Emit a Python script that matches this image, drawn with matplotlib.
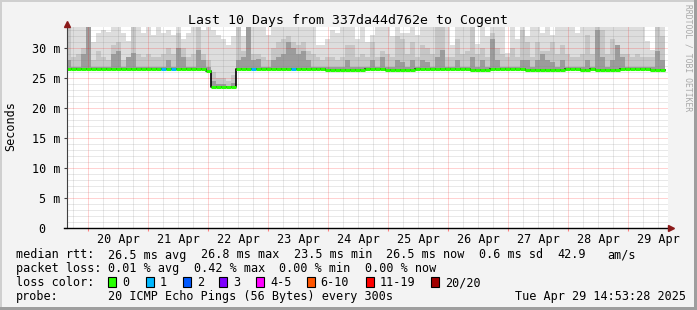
import numpy as np
import matplotlib
matplotlib.use('Agg')
import matplotlib.pyplot as plt
from matplotlib.patches import Rectangle

W, H, DPI = 697, 310, 100
plt.rcParams['font.family'] = 'DejaVu Sans Mono'
FS = 8.5

title = 'Last 10 Days from 337da44d762e to Cogent'

# time in days counted from 20 Apr 00:00, graph ends Tue Apr 29 14:53:28
t_end = 9 + (14 + 53 / 60) / 24
t_start = t_end - 10
bin_w = 2 / 24  # one value every 2 hours

day_labels = ['20 Apr', '21 Apr', '22 Apr', '23 Apr', '24 Apr',
              '25 Apr', '26 Apr', '27 Apr', '28 Apr', '29 Apr']
ytick_vals = [0, 5, 10, 15, 20, 25, 30]
ytick_labels = ['0  ', '5 m', '10 m', '15 m', '20 m', '25 m', '30 m']

# median rtt (ms) per 2h bin
median = [26.6, 26.6, 26.6, 26.6, 26.6, 26.6, 26.6, 26.6, 26.6, 26.6,
          26.6, 26.6, 26.5, 26.6, 26.6, 26.6, 26.6, 26.6, 26.6, 26.6,
          26.6, 26.6, 26.6, 26.5, 26.5, 26.6, 26.6, 26.6, 26.2, 23.5,
          23.5, 23.5, 23.5, 23.5, 26.6, 26.6, 26.6, 26.6, 26.6, 26.6,
          26.6, 26.6, 26.6, 26.6, 26.6, 26.6, 26.6, 26.6, 26.6, 26.6,
          26.6, 26.6, 26.45, 26.45, 26.45, 26.45, 26.4, 26.4, 26.4, 26.4,
          26.5, 26.5, 26.5, 26.5, 26.45, 26.45, 26.45, 26.45, 26.45, 26.45,
          26.5, 26.5, 26.5, 26.5, 26.5, 26.5, 26.5, 26.5, 26.5, 26.5,
          26.5, 26.45, 26.45, 26.45, 26.45, 26.5, 26.5, 26.5, 26.5, 26.5,
          26.55, 26.55, 26.4, 26.4, 26.4, 26.4, 26.4, 26.4, 26.4, 26.4,
          26.5, 26.5, 26.5, 26.4, 26.4, 26.5, 26.4, 26.4, 26.4, 26.4,
          26.4, 26.5, 26.5, 26.5, 26.5, 26.5, 26.5, 26.4, 26.4, 26.4]

# lost pings (of 20) per bin
loss = [0] * 19 + [1, 0, 1] + [0] * 15 + [1] + [0] * 7 + [1] + [0] * 74

# smoke: tops of the light, medium and dark bands (ms)
smoke_top = [34, 34, 34, 34, 34, 31.0, 32.5, 33.0, 32.8, 34,
             34, 32.6, 31.2, 34, 34, 32.6, 34, 32.3, 34, 32.5,
             33.0, 32.2, 34, 31.5, 32.5, 34, 34, 33.0, 34, 33.0,
             32.3, 31.5, 30.5, 32.0, 34, 32.0, 34, 34, 34, 34,
             32.3, 34, 34, 34, 34, 34, 34, 34, 34, 33.5,
             30.5, 30.5, 31.5, 33.0, 32.5, 34, 34, 34, 31.5, 34,
             31.0, 32.3, 34, 34, 34, 32.0, 34, 32.5, 32.5, 34,
             32.3, 34, 34, 34, 34, 34, 34, 30.6, 34, 34,
             34, 34, 30.8, 34, 32.0, 34, 34, 34, 29.3, 34,
             31.6, 34, 32.0, 34, 34, 32.5, 34, 32.3, 34, 34,
             34, 33.5, 32.5, 34, 34, 33.5, 34, 34, 34, 34,
             34, 34, 34, 34, 34, 34, 31.2, 29.7, 34, 34]
smoke_mid = [34, 28.5, 29, 30, 34, 28, 29.5, 28.5, 28, 30.5,
             31, 28, 28.5, 33.5, 29, 28.5, 29, 28.5, 28.5, 29,
             30, 29, 32.5, 30, 28.5, 29, 33.5, 29, 28, 26,
             25, 25, 24.5, 25.5, 33.5, 29.5, 34, 29, 29, 28.5,
             28, 30, 31, 31.5, 32, 31, 30.5, 31, 29.5, 29,
             28.5, 28, 28.5, 28.5, 28, 28.5, 30.5, 30.5, 28.5, 29,
             28.5, 31, 28.5, 29.5, 29, 28.5, 32, 31.5, 29, 31,
             28.5, 30.5, 30, 29, 33.5, 33.5, 28.5, 28.5, 31.5, 29,
             29.5, 33.5, 29, 30, 28.5, 32.5, 30, 29, 28.5, 30,
             28.5, 33, 31, 28.5, 31, 29.5, 29.5, 31, 29, 30.5,
             29, 28.5, 28.5, 29, 32.3, 29, 33.5, 33, 29, 31.5,
             30.5, 29, 29, 28.5, 29, 28.5, 28.5, 28.5, 33.5, 32]
smoke_dark = [28, 26.9, 26.9, 29, 34, 26.9, 26.9, 26.9, 26.9, 29,
              29.5, 26.9, 28.5, 29.3, 26.9, 26.9, 26.9, 26.9, 26.9, 26.9,
              28, 26.9, 30, 28.5, 26.9, 26.9, 29.8, 28, 26.9, 24.5,
              24, 24, 23.8, 24.2, 28, 28.5, 33.5, 28, 28.2, 26.9,
              26.9, 28, 28.5, 29, 31, 30, 29, 29.5, 28, 26.9,
              26.9, 26.9, 26.9, 26.9, 26.9, 26.9, 28, 26.9, 26.9, 26.9,
              26.9, 28, 26.9, 28.5, 26.9, 26.9, 28, 27.8, 26.9, 28,
              26.9, 28, 27.8, 26.9, 28.5, 29.8, 26.9, 26.9, 28, 26.9,
              26.9, 28.5, 26.9, 28, 26.9, 31.5, 28, 26.9, 26.9, 26.9,
              26.9, 28, 28, 26.9, 28, 29, 28, 27.8, 26.9, 28,
              26.9, 26.9, 26.9, 26.9, 28, 26.9, 33, 28.5, 26.9, 28,
              30.5, 28.5, 26.9, 26.9, 26.9, 26.9, 26.9, 26.9, 29.5, 28]

loss_names = ['0', '1', '2', '3', '4-5', '6-10', '11-19', '20/20']
loss_colors = ['#26ff00', '#00b8ff', '#0059ff', '#7e00ff',
               '#ff00ff', '#ff5500', '#ff0000', '#a10000']
loss_limits = [0, 1, 2, 3, 5, 10, 19, 20]

rtt_stats = ['26.5 ms avg', '26.8 ms max', '23.5 ms min', '26.5 ms now', '0.6 ms sd', '42.9', 'am/s']
loss_stats = ['0.01 % avg', '0.42 % max', '0.00 % min', '0.00 % now']
probe_text = '20 ICMP Echo Pings (56 Bytes) every 300s'
stamp = 'Tue Apr 29 14:53:28 2025'


def loss_color(n):
    for lim, c in zip(loss_limits, loss_colors):
        if n <= lim:
            return c
    return loss_colors[-1]


def fx(x):
    return x / W


def fy(y):
    return 1 - y / H


fig = plt.figure(figsize=(W / DPI, H / DPI), dpi=DPI, facecolor='#f3f3f3')

# plot area in pixels: x 66.7..668.3, y 26.7..228.3
ax = fig.add_axes([fx(66.7), fy(228.3), (668.3 - 66.7) / W, (228.3 - 26.7) / H])
ax.set_facecolor('white')
xmin, xmax = -0.36, 9.667
ax.set_xlim(xmin, xmax)
ax.set_ylim(0, 33.6)
for s in ax.spines.values():
    s.set_visible(False)

x = t_start + np.arange(len(median)) * bin_w
edges = np.append(x, x[-1] + bin_w)
med = np.array(median, dtype=float)
med_e = np.append(med, med[-1])

for vals, col in [(smoke_top, '#dddddd'), (smoke_mid, '#c6c6c6'), (smoke_dark, '#9c9c9c')]:
    v = np.append(vals, vals[-1])
    ax.fill_between(edges, med_e, v, step='post', color=col, lw=0, zorder=1)

# dotted grid on top of smoke
t = np.ceil(xmin * 4) / 4
while t < xmax:
    red = abs(t - round(t)) < 1e-6
    ax.axvline(t, color='#ff0000' if red else '#808080', alpha=0.35,
               lw=0.72, ls=(0, (1, 1)), zorder=3)
    t += 0.25
for v in range(1, 34):
    red = v % 5 == 0
    ax.axhline(v, color='#ff0000' if red else '#808080', alpha=0.35,
               lw=0.72, ls=(0, (1, 1)), zorder=3)

# median line, coloured by loss
ax.step(edges, med_e, where='post', color='black', lw=1.2, zorder=4)
ax.hlines(med, x, x + bin_w, colors=[loss_color(n) for n in loss], lw=2.2, zorder=5)

# axes with arrows
ax.plot([xmin, xmin], [0, 34.1], color='#404040', lw=0.8, clip_on=False, zorder=6)
ax.plot([xmin], [34.1], marker='^', ms=4.5, color='#8b1a1a', mec='#8b1a1a', clip_on=False, zorder=7)
ax.plot([xmin - 0.05, 9.72], [0, 0], color='black', lw=1, clip_on=False, zorder=6)
ax.plot([9.72], [0], marker='>', ms=4.5, color='#8b1a1a', mec='#8b1a1a', clip_on=False, zorder=7)

ax.set_yticks(ytick_vals, ytick_labels)
ax.tick_params(axis='y', length=2.2, width=0.8, color='#404040', pad=2, labelsize=FS)
ax.set_xticks([d + 0.5 for d in range(len(day_labels))], day_labels)
ax.set_xticks(range(0, 10), minor=True)
ax.tick_params(axis='x', which='major', length=0, pad=3.2, labelsize=FS)
ax.tick_params(axis='x', which='minor', length=2, width=0.8, color='#ff8080')

# texts
fig.text(fx(347.5), fy(24), title, ha='center', va='baseline', fontsize=9.5)
fig.text(fx(11), fy(126), 'Seconds', rotation=90, ha='center', va='center', fontsize=FS)
fig.text(fx(688), fy(4), 'RRDTOOL / TOBI OETIKER', rotation=270, ha='center', va='top',
         fontsize=5.8, color='#a8a8a8')

CW = 7.13
X0 = 15.5


def col(c):
    return fx(X0 + c * CW)


fig.text(col(0), fy(258.5), 'median rtt:', va='baseline', fontsize=FS)
for c, s in zip([13, 26, 39, 52, 65, 76, 83], rtt_stats):
    fig.text(col(c), fy(258.5), s, va='baseline', fontsize=FS)

fig.text(col(0), fy(272.3), 'packet loss:', va='baseline', fontsize=FS)
for c, s in zip([13, 25, 37, 49], loss_stats):
    fig.text(col(c), fy(272.3), s, va='baseline', fontsize=FS)

fig.text(col(0), fy(286.1), 'loss color:', va='baseline', fontsize=FS)
box_x = [108.3, 145.7, 182.7, 219.3, 256, 306.7, 366, 430.7]
for bx, name, c in zip(box_x, loss_names, loss_colors):
    fig.add_artist(Rectangle((fx(bx), fy(286.5)), 8 / W, 10 / H, transform=fig.transFigure,
                             facecolor=c, edgecolor='black', lw=0.8))
    fig.text(fx(bx + 14), fy(286.1), name, va='baseline', fontsize=FS)

fig.text(col(0), fy(300), 'probe:', va='baseline', fontsize=FS)
fig.text(col(13), fy(300), probe_text, va='baseline', fontsize=FS)
fig.text(col(70), fy(300), stamp, va='baseline', fontsize=FS)

# 3d frame
fig.add_artist(Rectangle((0, fy(2)), 1, 2 / H, transform=fig.transFigure, color='#cfcfcf', lw=0))
fig.add_artist(Rectangle((0, 0), 2 / W, 1, transform=fig.transFigure, color='#cfcfcf', lw=0))
fig.add_artist(Rectangle((0, 0), 1, 3 / H, transform=fig.transFigure, color='#9e9e9e', lw=0))
fig.add_artist(Rectangle((1 - 3 / W, 0), 3 / W, 1, transform=fig.transFigure, color='#9e9e9e', lw=0))

fig.savefig('out.png', dpi=DPI, facecolor=fig.get_facecolor())
